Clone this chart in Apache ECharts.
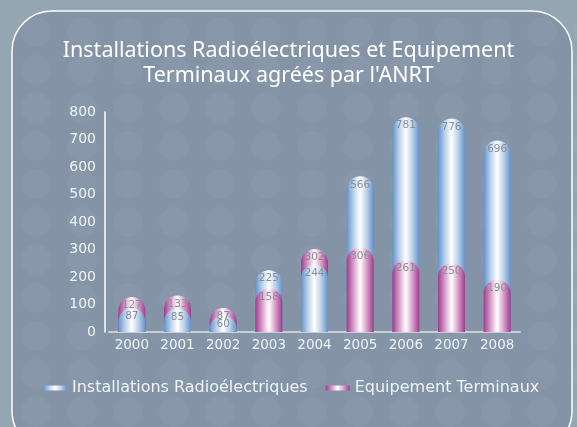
<!DOCTYPE html>
<html>
<head>
<meta charset="utf-8">
<script src="https://cdn.jsdelivr.net/npm/echarts@6/dist/echarts.min.js"></script>
<style>
  html, body { margin: 0; padding: 0; background: #94a6b2; }
  #chart { width: 577px; height: 427px; }
</style>
</head>
<body>
<div id="chart"></div>
<script>
var years = ['2000', '2001', '2002', '2003', '2004', '2005', '2006', '2007', '2008']
var installations = [87, 85, 60, 225, 244, 566, 781, 776, 696]
var equipements = [127, 133, 87, 158, 302, 306, 261, 250, 190]

var blueName = 'Installations Radioélectriques'
var pinkName = 'Equipement Terminaux'

function cylinder(edge, mid) {
  return new echarts.graphic.LinearGradient(0, 0, 1, 0, [
    { offset: 0, color: edge },
    { offset: 0.25, color: mid },
    { offset: 0.5, color: '#ffffff' },
    { offset: 0.75, color: mid },
    { offset: 1, color: edge }
  ])
}
var blueFill = cylinder('#6393c9', '#b9d0ea')
var pinkFill = cylinder('#9c3d8c', '#d89ac9')

// the taller bar of each year sits behind, the shorter one in front
function pick(a, b, back) {
  return a.map(function(v, i) {
    var isBack = v >= b[i]
    return isBack === back ? v : null
  })
}

function barSeries(name, fill, data) {
  return {
    name: name,
    type: 'bar',
    barWidth: 27,
    barGap: '-100%',
    data: data,
    itemStyle: { color: fill, borderRadius: [14, 14, 0, 0] },
    label: {
      show: true,
      position: 'insideTop',
      distance: 3,
      color: '#8a8e96',
      fontSize: 10.5,
      fontFamily: 'DejaVu Sans'
    }
  }
}

// decorative dotted background
var dots = []
for (var cx = 36; cx < 600; cx += 46) {
  for (var cy = 32; cy < 440; cy += 38) {
    dots.push({
      type: 'circle',
      silent: true,
      shape: { cx: cx, cy: cy, r: 15 },
      style: { fill: 'rgba(255,255,255,0.035)' }
    })
  }
}

var chart = echarts.init(document.getElementById('chart'))
chart.setOption({
  backgroundColor: '#94a6b2',
  graphic: [
    {
      type: 'rect',
      silent: true,
      z: -10,
      shape: { x: 12, y: 11, width: 560, height: 440, r: 40 },
      style: { fill: '#8494a6', stroke: '#ffffff', lineWidth: 1.5 }
    },
    { type: 'group', silent: true, z: -9, children: dots }
  ],
  title: {
    text: 'Installations Radioélectriques et Equipement\nTerminaux agréés par l\'ANRT',
    left: 'center',
    top: 33,
    textStyle: {
      color: '#ffffff',
      fontSize: 21.5,
      fontWeight: 'normal',
      fontFamily: 'Noto Sans',
      lineHeight: 25,
      align: 'center'
    }
  },
  legend: {
    left: 38,
    top: 375,
    itemWidth: 24,
    itemHeight: 5,
    itemGap: 18,
    icon: 'rect',
    data: [blueName, pinkName],
    textStyle: { color: '#f0f3f6', fontSize: 16, fontFamily: 'DejaVu Sans' }
  },
  grid: { left: 109, right: 57, top: 112, bottom: 95 },
  xAxis: {
    type: 'category',
    data: years,
    axisLine: { lineStyle: { color: '#c9ced3', width: 2 } },
    axisTick: { show: false },
    axisLabel: { color: '#f0f3f6', fontSize: 13.5, margin: 6, interval: 0, fontFamily: 'DejaVu Sans' }
  },
  yAxis: {
    type: 'value',
    min: 0,
    max: 800,
    interval: 100,
    offset: 4,
    axisLine: { show: true, lineStyle: { color: '#ffffff', width: 1.5 } },
    axisTick: { show: false },
    splitLine: { show: false },
    axisLabel: { color: '#f0f3f6', fontSize: 14, margin: 9, fontFamily: 'DejaVu Sans' }
  },
  series: [
    barSeries(blueName, blueFill, pick(installations, equipements, true)),
    barSeries(pinkName, pinkFill, pick(equipements, installations, true)),
    barSeries(blueName, blueFill, pick(installations, equipements, false)),
    barSeries(pinkName, pinkFill, pick(equipements, installations, false))
  ]
})
</script>
</body>
</html>
